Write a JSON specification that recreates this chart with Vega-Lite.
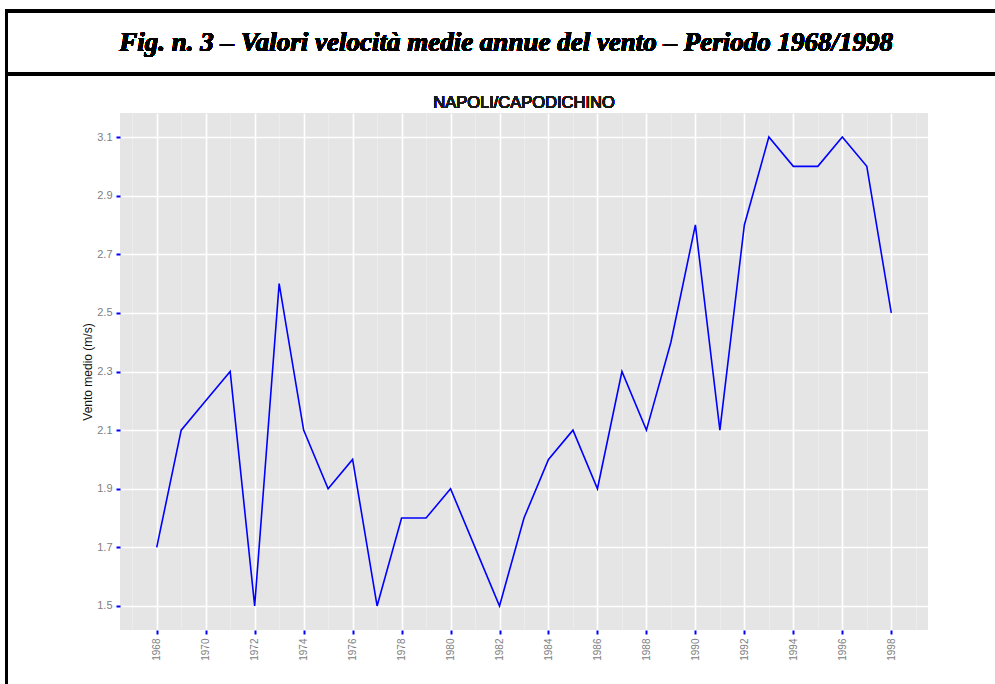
{
  "$schema": "https://vega.github.io/schema/vega-lite/v6.json",
  "autosize": {"type": "none"},
  "padding": {"left": 120, "top": 113, "right": 67, "bottom": 54},
  "width": 808,
  "height": 517,
  "background": "white",
  "data": {
    "values": [
      {"year": 1968, "wind": 1.7},
      {"year": 1969, "wind": 2.1},
      {"year": 1970, "wind": 2.2},
      {"year": 1971, "wind": 2.3},
      {"year": 1972, "wind": 1.5},
      {"year": 1973, "wind": 2.6},
      {"year": 1974, "wind": 2.1},
      {"year": 1975, "wind": 1.9},
      {"year": 1976, "wind": 2.0},
      {"year": 1977, "wind": 1.5},
      {"year": 1978, "wind": 1.8},
      {"year": 1979, "wind": 1.8},
      {"year": 1980, "wind": 1.9},
      {"year": 1981, "wind": 1.7},
      {"year": 1982, "wind": 1.5},
      {"year": 1983, "wind": 1.8},
      {"year": 1984, "wind": 2.0},
      {"year": 1985, "wind": 2.1},
      {"year": 1986, "wind": 1.9},
      {"year": 1987, "wind": 2.3},
      {"year": 1988, "wind": 2.1},
      {"year": 1989, "wind": 2.4},
      {"year": 1990, "wind": 2.8},
      {"year": 1991, "wind": 2.1},
      {"year": 1992, "wind": 2.8},
      {"year": 1993, "wind": 3.1},
      {"year": 1994, "wind": 3.0},
      {"year": 1995, "wind": 3.0},
      {"year": 1996, "wind": 3.1},
      {"year": 1997, "wind": 3.0},
      {"year": 1998, "wind": 2.5}
    ]
  },
  "resolve": {"axis": {"x": "independent"}},
  "layer": [
    {
      "mark": {"type": "text", "font": "Liberation Sans", "fontSize": 16.5, "color": "#1A1A1A", "align": "center", "baseline": "middle", "clip": false},
      "encoding": {
        "x": {
          "datum": 1983.0,
          "type": "quantitative",
          "axis": {
            "orient": "top",
            "title": null,
            "values": [1967,1969,1971,1973,1975,1977,1979,1981,1983,1985,1987,1989,1991,1993,1995,1997,1999],
            "labels": false,
            "ticks": false,
            "domain": false,
            "grid": true,
            "gridColor": "#EDEDED",
            "gridWidth": 0.8
          }
        },
        "y": {"datum": 3.216, "type": "quantitative"},
        "text": {"value": "NAPOLI/CAPODICHINO"}
      }
    },
    {
      "mark": {"type": "line", "color": "#0000FF", "strokeWidth": 1.6},
      "encoding": {
        "x": {
          "field": "year",
          "type": "quantitative",
          "scale": {"domain": [1966.5, 1999.5], "nice": false, "zero": false},
          "axis": {
            "orient": "bottom",
            "title": null,
            "values": [1968,1970,1972,1974,1976,1978,1980,1982,1984,1986,1988,1990,1992,1994,1996,1998],
            "format": "d",
            "labelAngle": 270,
            "labelAlign": "right",
            "labelBaseline": "middle",
            "labelFont": "Liberation Sans",
            "labelFontSize": 10,
            "labelColor": "#808080",
            "labelPadding": 4,
            "labelOverlap": false,
            "domain": false,
            "grid": true,
            "gridColor": "#FFFFFF",
            "gridWidth": 1.6,
            "tickColor": "#0000FF",
            "tickSize": 4,
            "tickWidth": 2
          }
        },
        "y": {
          "field": "wind",
          "type": "quantitative",
          "scale": {"domain": [1.418, 3.182], "nice": false, "zero": false},
          "axis": {
            "title": "Vento medio (m/s)",
            "titleFont": "Liberation Sans",
            "titleFontSize": 12,
            "titleFontWeight": "normal",
            "titleColor": "#111111",
            "titlePadding": 2,
            "values": [1.5,1.6,1.7,1.8,1.9,2.0,2.1,2.2,2.3,2.4,2.5,2.6,2.7,2.8,2.9,3.0,3.1],
            "format": ".1f",
            "labelExpr": "round(datum.value*10) % 2 == 1 ? datum.label : ''",
            "labelFont": "Liberation Sans",
            "labelFontSize": 11,
            "labelColor": "#808080",
            "labelPadding": 4,
            "labelOverlap": false,
            "domain": false,
            "grid": true,
            "gridColor": {"condition": {"test": "round(datum.value*10) % 2 == 1", "value": "#FFFFFF"}, "value": "#EDEDED"},
            "gridWidth": {"condition": {"test": "round(datum.value*10) % 2 == 1", "value": 1.6}, "value": 0.8},
            "tickColor": {"condition": {"test": "round(datum.value*10) % 2 == 1", "value": "#0000FF"}, "value": "transparent"},
            "tickSize": 4,
            "tickWidth": 2
          }
        }
      }
    },
    {
      "mark": {"type": "rect", "fill": "transparent", "stroke": "#000000", "strokeWidth": 2.5, "clip": false},
      "encoding": {
        "x": {"datum": 1961.86, "type": "quantitative", "axis": null},
        "x2": {"datum": 2002.6},
        "y": {"datum": 3.530, "type": "quantitative"},
        "y2": {"datum": 1.17}
      }
    },
    {
      "mark": {"type": "rule", "color": "#000000", "strokeWidth": 2.5, "clip": false},
      "encoding": {
        "x": {"datum": 1961.86, "type": "quantitative", "axis": null},
        "x2": {"datum": 2002.6},
        "y": {"datum": 3.315, "type": "quantitative"}
      }
    },
    {
      "mark": {"type": "text", "font": "Liberation Serif", "fontSize": 27, "fontWeight": "bold", "fontStyle": "italic", "color": "#000000", "align": "center", "baseline": "middle", "clip": false},
      "encoding": {
        "x": {"datum": 1982.27, "type": "quantitative", "axis": null},
        "y": {"datum": 3.421, "type": "quantitative"},
        "text": {"value": "Fig. n. 3 – Valori velocità medie annue del vento – Periodo 1968/1998"}
      }
    }
  ],
  "config": {
    "view": {"fill": "#E5E5E5", "stroke": null}
  }
}
